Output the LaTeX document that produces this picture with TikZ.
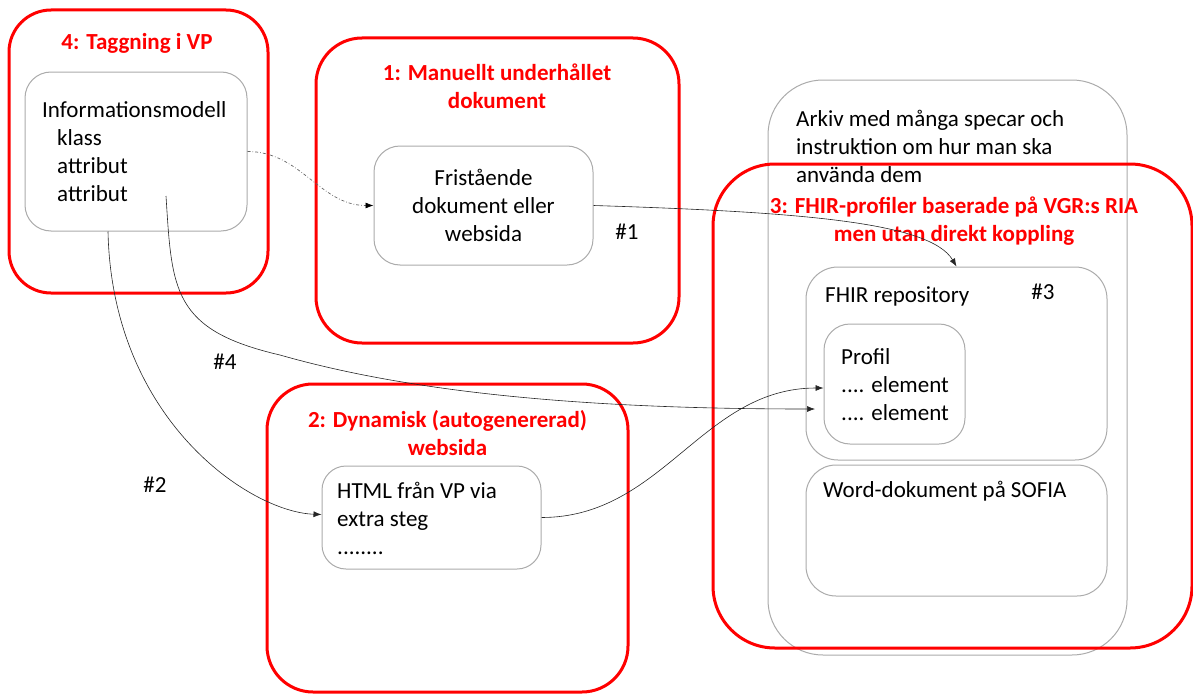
\documentclass[tikz,border=0pt]{standalone}
\usepackage{fontspec}
\setmainfont{Carlito}
\usepackage{tikz}
\usetikzlibrary{arrows, arrows.meta, positioning}
\newcommand{\plainsize}{\fontsize{23}{28}\selectfont}
\newcommand{\headsize}{\fontsize{23}{27.5}\selectfont\bfseries}
\tikzset{
    redframe/.style = {draw=red, line width=3pt, rectangle, rounded corners=42pt, fill=none, inner sep=0pt},
    roundnode/.style = {draw=black!33, line width=1pt, rectangle, rounded corners=26pt, fill=none, inner sep=0pt, font=\plainsize, align=center},
    textnode/.style = {draw=none, fill=none, rectangle, inner sep=0pt, font=\plainsize},
    leftnode/.style = {textnode, anchor=west, align=left},
    titlenode/.style = {textnode, text=red, font=\headsize, align=center},
    connect/.style = {black!85, line width=0.6pt, -{Latex[length=8pt, width=6pt]}},
    dashconnect/.style = {black!60, line width=0.7pt, dash dot, -{Latex[length=8pt, width=6pt, color=black]}}
}

\begin{document}
\begin{tikzpicture}[x=1pt, y=-1pt]
    \useasboundingbox (0,0) rectangle (1193,693);

    \node [name=arkiv, roundnode, rounded corners=55pt, minimum width=359pt, minimum height=575pt] at (947.5,367.5) {};
    \node [name=arkivtext, leftnode] at (796,146) {Arkiv med många specar och\\instruktion om hur man ska\\använda dem};

    \node [name=fhirframe, redframe, rounded corners=62pt, minimum width=479pt, minimum height=484pt] at (952.5,406) {};
    \node [name=fhirtitle, titlenode] at (954,221) {3: FHIR-profiler baserade på VGR:s RIA\\men utan direkt koppling};

    \node [name=fhir, roundnode, rounded corners=32pt, minimum width=301pt, minimum height=193pt] at (956.5,363.5) {};
    \node [leftnode] at (825,296) {FHIR repository};
    \node [textnode] at (1043,292) {\#3};
    \node [name=profil, roundnode, minimum width=141pt, minimum height=120pt] at (894.5,384) {};
    \node [leftnode] at (841,385) {Profil\\.... element\\.... element};
    \node [name=word, roundnode, rounded corners=30pt, minimum width=301pt, minimum height=131pt] at (956.5,530.5) {};
    \node [leftnode] at (823,491) {Word-dokument på SOFIA};

    \node [name=tagframe, redframe, minimum width=259pt, minimum height=283pt] at (138.5,151.5) {};
    \node [name=tagtitle, titlenode] at (137,43) {4: Taggning i VP};
    \node [name=info, roundnode, minimum width=222pt, minimum height=159pt] at (136,151.5) {};
    \node [leftnode] at (42,152) {Informationsmodell\\\hspace{15pt}klass\\\hspace{15pt}attribut\\\hspace{15pt}attribut};

    \node [name=manframe, redframe, rounded corners=46pt, minimum width=363pt, minimum height=305pt] at (497.5,190.5) {};
    \node [name=mantitle, titlenode] at (497,86.5) {1: Manuellt underhållet\\dokument};
    \node [name=frist, roundnode, minimum width=219pt, minimum height=119pt] at (483.5,205.5) {Fristående\\dokument eller\\websida};
    \node [textnode] at (627,232) {\#1};

    \node [name=dynframe, redframe, rounded corners=46pt, minimum width=361pt, minimum height=308pt] at (447.5,538) {};
    \node [name=dyntitle, titlenode] at (447.5,433) {2: Dynamisk (autogenererad)\\websida};
    \node [name=html, roundnode, rounded corners=24pt, minimum width=219pt, minimum height=103pt] at (431.5,517.5) {};
    \node [leftnode] at (337,518) {HTML från VP via\\extra steg\\........};

    \node [textnode] at (225,362) {\#4};
    \node [textnode] at (155,485) {\#2};

    \coordinate (attrfoot) at (166,196);
    \coordinate (repoin) at (815,409);

    \draw [dashconnect] (info.east) to[out=0, in=180] (frist.west);
    \draw [connect] (frist.east) .. controls (800,212) and (930,222) .. (fhir.north);
    \draw [connect] ([xshift=-28pt]info.south) .. controls (112,420) and (250,512) .. ([yshift=3pt]html.west);
    \draw [connect] (attrfoot) .. controls (172,290) and (172,330) .. (280,355) .. controls (420,395) and (600,409) .. (repoin);
    \draw [connect] (html.east) to[out=0, in=180] ([yshift=-4pt]profil.west);
\end{tikzpicture}
\end{document}
